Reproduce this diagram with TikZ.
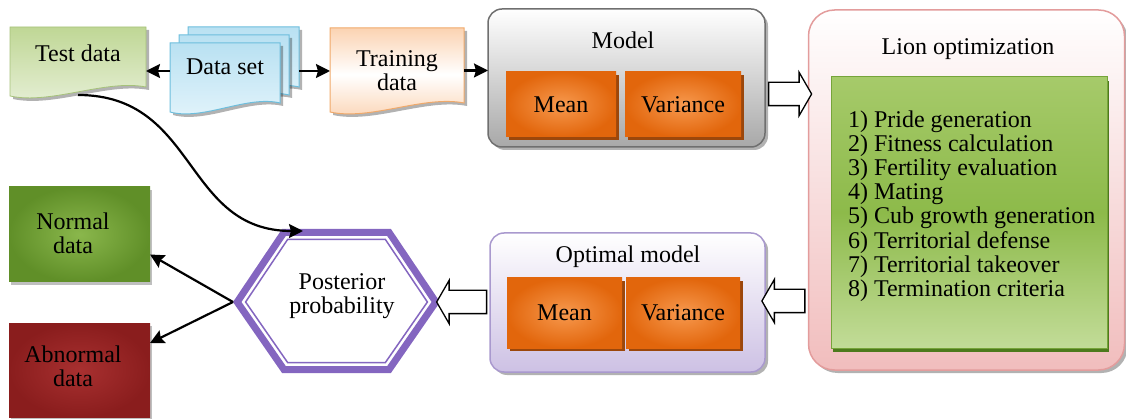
\documentclass[tikz,border=0pt]{standalone}
\usepackage{fontspec}
\setmainfont{Liberation Serif}
\usetikzlibrary{calc,shadows,shapes.arrows,arrows.meta}
\definecolor{tdA}{HTML}{BFD795}
\definecolor{tdB}{HTML}{E6EFD6}
\definecolor{tdD}{HTML}{A6C27A}
\definecolor{dsA}{HTML}{B9E1F2}
\definecolor{dsB}{HTML}{E3F4FB}
\definecolor{dsD}{HTML}{6DBEDD}
\definecolor{trA}{HTML}{FBD3B2}
\definecolor{trD}{HTML}{F0A96A}
\definecolor{mdB}{HTML}{A8A8A8}
\definecolor{mdD}{HTML}{6F6F6F}
\definecolor{orA}{HTML}{F7994E}
\definecolor{orB}{HTML}{E2660C}
\definecolor{orD}{HTML}{9C470B}
\definecolor{lnB}{HTML}{F1BDBD}
\definecolor{lnD}{HTML}{E39C9C}
\definecolor{grA}{HTML}{A6CA6A}
\definecolor{grM}{HTML}{8DBA4A}
\definecolor{grB}{HTML}{C2DC98}
\definecolor{grD}{HTML}{76A43A}
\definecolor{grS}{HTML}{4D7A1C}
\definecolor{omB}{HTML}{CDC1E4}
\definecolor{omD}{HTML}{A999CE}
\definecolor{hexC}{HTML}{8466C0}
\definecolor{nmA}{HTML}{8AB74C}
\definecolor{nmB}{HTML}{608F28}
\definecolor{abA}{HTML}{A83030}
\definecolor{abB}{HTML}{8A1D1D}
\newcommand\docshape[2]{%
  \path[#2] (#1.north west) -- (#1.north east) -- ([yshift=10pt]#1.south east)
    .. controls ($(#1.south east)!0.3!(#1.south west)+(0,18pt)$)
       and ($(#1.south east)!0.7!(#1.south west)+(0,-8pt)$) .. ([yshift=1pt]#1.south west) -- cycle;}
\begin{document}
\begin{tikzpicture}[x=1pt,y=-1pt,
  every node/.style={font=\fontsize{24}{24.2}\selectfont, inner sep=0pt, outer sep=0pt},
  softshadow/.style={drop shadow={shadow xshift=3pt,shadow yshift=-3pt,opacity=0.3,fill=black}},
  orbox/.style={rectangle, inner color=orA, outer color=orB,
     drop shadow={shadow xshift=3pt,shadow yshift=-3pt,opacity=1,fill=orD}},
  blk/.style={line width=2.2pt, -{Stealth[length=14pt,width=14pt,inset=2pt]}},
  harrow/.style={single arrow, draw=black, line width=1.3pt, fill=white,
     inner xsep=0pt, inner ysep=11pt, single arrow head extend=10pt,
     single arrow tip angle=120, minimum height=#1},
]
\useasboundingbox (0,0) rectangle (1126,419);
% Test data
\node[minimum width=136pt, minimum height=70pt] (test) at (78,62) {};
\docshape{test}{draw=tdD, line width=0.8pt, top color=tdA, bottom color=tdB, softshadow}
\node (testL) at (78,53) {Test data};
% Data set
\node[minimum width=111pt, minimum height=70pt] (ds3) at (243.5,62) {};
\node[minimum width=110pt, minimum height=70pt] (ds2) at (234,70) {};
\node[minimum width=110pt, minimum height=70pt] (ds) at (225,78) {};
\docshape{ds3}{draw=dsD, line width=1pt, top color=dsA, bottom color=dsB, softshadow}
\docshape{ds2}{draw=dsD, line width=1pt, top color=dsA, bottom color=dsB, softshadow}
\docshape{ds}{draw=dsD, line width=1pt, top color=dsA, bottom color=dsB, softshadow}
\node (dsL) at (225,67) {Data set};
% Training data
\node[minimum width=134pt, minimum height=85pt] (train) at (397,70.5) {};
\docshape{train}{draw=trD, line width=1pt, top color=trA, bottom color=trA, middle color=white, softshadow}
\node[align=center] (trainL) at (397,71) {Training\\data};
% Model
\node[rectangle, rounded corners=14pt, draw=mdD, line width=1.5pt, top color=white, bottom color=mdB,
  minimum width=277pt, minimum height=138pt, softshadow] (model) at (626.5,78) {};
\node (modelL) at (623,40) {Model};
\node[orbox, minimum width=110pt, minimum height=65pt] (mean1) at (561,104.5) {Mean};
\node[orbox, minimum width=116pt, minimum height=65pt] (var1) at (683,104.5) {Variance};
% Lion optimization
\node[rectangle, rounded corners=26pt, draw=lnD, line width=1.5pt, top color=white, bottom color=lnB,
  minimum width=316pt, minimum height=360pt, softshadow] (lion) at (966.5,190) {};
\node (lionL) at (968,49) {Lion optimization};
\node[rectangle, draw=grD, line width=1pt, top color=grA, bottom color=grB, middle color=grM,
  minimum width=276pt, minimum height=271pt,
  drop shadow={shadow xshift=2pt,shadow yshift=-4pt,opacity=1,fill=grS}] (green) at (969,212.5) {};
\node[anchor=west, align=left] (steps) at (848,206) {1) Pride generation\\2) Fitness calculation\\3) Fertility evaluation\\4) Mating\\5) Cub growth generation\\6) Territorial defense\\7) Territorial takeover\\8) Termination criteria};
% Optimal model
\node[rectangle, rounded corners=14pt, draw=omD, line width=1.5pt, top color=white, bottom color=omB,
  minimum width=275pt, minimum height=139pt, softshadow] (opt) at (627.5,302.5) {};
\node (optL) at (628,257) {Optimal model};
\node[orbox, minimum width=115pt, minimum height=70pt] (mean2) at (564.5,313) {Mean};
\node[orbox, minimum width=114pt, minimum height=70pt] (var2) at (683,313) {Variance};
% Hexagon
\coordinate (hL) at (233,302);
\coordinate (hR) at (440,302);
\coordinate (hT) at (303,231);
\draw[hexC, line width=7pt, line join=miter, fill=white] (237.2,302) -- (283.9,232.5) -- (389.1,232.5) -- (435.8,302) -- (389.1,369.5) -- (283.9,369.5) -- cycle;
\draw[hexC, line width=1.5pt, line join=miter] (245.6,302) -- (287.6,239.5) -- (385.4,239.5) -- (427.4,302) -- (385.4,362.5) -- (287.6,362.5) -- cycle;
\node[align=center] (post) at (342,296) {Posterior\\probability};
% Normal / Abnormal
\node[rectangle, inner color=nmA, outer color=nmB, minimum width=141pt, minimum height=95pt,
  drop shadow={shadow xshift=2pt,shadow yshift=-3pt,opacity=0.5}] (normal) at (79.5,234.5) {};
\node[align=center] (normalL) at (73,233) {Normal\\data};
\node[rectangle, inner color=abA, outer color=abB, minimum width=141pt, minimum height=94pt,
  drop shadow={shadow xshift=2pt,shadow yshift=-3pt,opacity=0.5}] (abn) at (79.5,370) {};
\node[align=center] (abnL) at (73,366) {Abnormal\\data};
% Black connectors
\draw[blk] ([yshift=7pt]ds.west) -- ([yshift=7pt]ds.west -| test.east);
\draw[blk] ([yshift=-9pt]ds3.east) -- ([yshift=-9pt]ds3.east -| train.west);
\draw[blk] (train.east) -- (train.east -| model.west);
\draw[blk] ([yshift=2pt]test.south) .. controls ($(test.south)+(120pt,2pt)$) and ($(hT)+(-120pt,0pt)$) .. (hT);
\draw[blk] (hL) -- ([yshift=-20pt]normal.east);
\draw[blk] (hL) -- ([yshift=27pt]abn.east);
% Hollow arrows
\coordinate (y94) at (0,94);
\coordinate (y301) at (0,301);
\node[harrow=43pt] (a1) at ($(model.east |- y94)!0.5!(lion.west |- y94)$) {};
\node[harrow=43pt, shape border rotate=180] (a2) at ($(opt.east |- y301)!0.5!(lion.west |- y301)$) {};
\node[harrow=50pt, shape border rotate=180] (a3) at ($(hR)!0.5!(opt.west |- hR)$) {};
\end{tikzpicture}
\end{document}
